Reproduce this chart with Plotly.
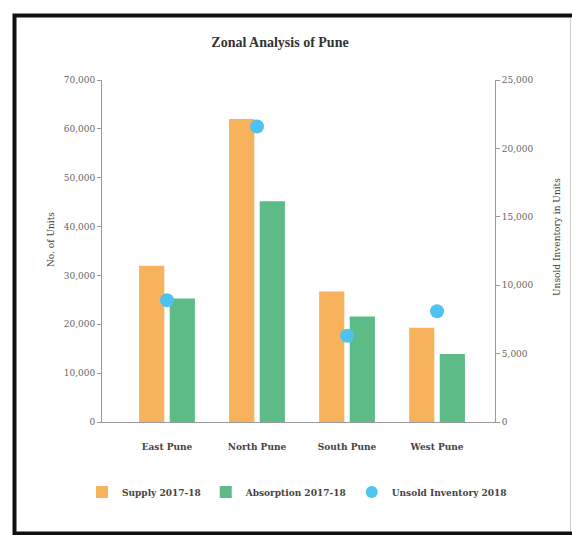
import plotly.graph_objects as go

# Zone-wise residential figures for Pune
zones = ["East Pune", "North Pune", "South Pune", "West Pune"]
supply = [32000, 62000, 26700, 19300]
absorption = [25300, 45200, 21600, 13900]
unsold = [8900, 21600, 6300, 8100]

series_names = ["Supply 2017-18", "Absorption 2017-18", "Unsold Inventory 2018"]
colors = ["#F8B25C", "#5DBB87", "#4EC3F0"]

W, H = 572, 535
ML, MR, MT, MB = 102, 77, 80, 113
PW, PH = W - ML - MR, H - MT - MB

SERIF = "Liberation Serif, Times New Roman, serif"
WIDE_SERIF = "DejaVu Serif, Georgia, serif"

fig = go.Figure()
fig.add_trace(go.Bar(x=zones, y=supply, name=series_names[0],
                     marker=dict(color=colors[0], line=dict(width=0)),
                     width=0.28, offset=-0.31))
fig.add_trace(go.Bar(x=zones, y=absorption, name=series_names[1],
                     marker=dict(color=colors[1], line=dict(width=0)),
                     width=0.28, offset=0.03))
fig.add_trace(go.Scatter(x=zones, y=unsold, name=series_names[2], yaxis="y2",
                         mode="markers",
                         marker=dict(color=colors[2], size=14, symbol="circle")))


def px_x(v):
    return (v - ML) / PW


def px_y(v):
    return 1 - (v - MT) / PH


axis_common = dict(
    showgrid=False, zeroline=False, showline=True, linecolor="#9a9a9a",
    linewidth=1, ticks="outside", ticklen=4, tickcolor="#9a9a9a",
    tickfont=dict(family=WIDE_SERIF, size=9, color="#666666"),
)

fig.update_layout(
    width=W, height=H,
    margin=dict(l=ML, r=MR, t=MT, b=MB, autoexpand=False),
    paper_bgcolor="white", plot_bgcolor="white",
    barmode="overlay",
    title=dict(text="<b>Zonal Analysis of Pune</b>", xref="container",
               x=280 / W, xanchor="center",
               y=1 - 42 / H, yanchor="middle",
               font=dict(family=SERIF, size=14, color="#333333")),
    xaxis=dict(
        type="category", range=[-0.722, 3.644], showgrid=False, zeroline=False,
        showline=True, linecolor="#9a9a9a", linewidth=1, ticks="",
        ticklabelstandoff=16,
        tickfont=dict(family=WIDE_SERIF, size=9, color="#444444", weight="bold"),
    ),
    yaxis=dict(range=[0, 70000], dtick=10000, tickformat=",", **axis_common),
    yaxis2=dict(range=[0, 25000], dtick=5000, tickformat=",", overlaying="y",
                side="right", anchor="x", **axis_common),
    legend=dict(orientation="h", x=px_x(82), xanchor="left",
                y=px_y(492), yanchor="middle",
                font=dict(family=WIDE_SERIF, size=9, color="#444444", weight="bold"),
                itemsizing="constant", traceorder="normal"),
    showlegend=True,
)

# Axis titles
fig.add_annotation(text="No. of Units", xref="paper", yref="paper",
                   x=px_x(44), y=px_y(240), textangle=-90, showarrow=False,
                   font=dict(family=WIDE_SERIF, size=9, color="#444444"))
fig.add_annotation(text="Unsold Inventory in Units", xref="paper", yref="paper",
                   x=px_x(564), y=px_y(237), textangle=-90, showarrow=False,
                   font=dict(family=WIDE_SERIF, size=9, color="#444444"))

# Outer frame around the card
fig.add_shape(type="rect", xref="paper", yref="paper",
              x0=px_x(14.5), x1=px_x(580), y0=px_y(15.5), y1=px_y(533.5),
              line=dict(color="#111111", width=4), fillcolor="rgba(0,0,0,0)",
              layer="above")
fig.add_shape(type="line", xref="paper", yref="paper",
              x0=px_x(570.5), x1=px_x(570.5), y0=px_y(18), y1=px_y(531),
              line=dict(color="#cccccc", width=1))

fig.write_html("out.html")
